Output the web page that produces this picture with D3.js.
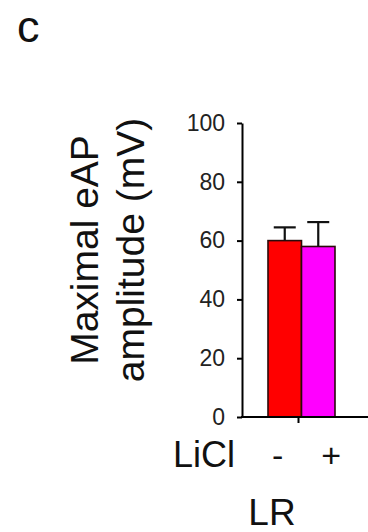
<!DOCTYPE html>
<html>
<head>
<meta charset="utf-8">
<script src="https://cdn.jsdelivr.net/npm/d3@7"></script>
<style>
  body { margin: 0; background: #fff; }
  svg { display: block; font-family: "Liberation Sans", Arial, sans-serif; }
</style>
</head>
<body>
<div id="vis"></div>
<script>
const width = 368;
const height = 532;

// data
const groups = ["-", "+"];
const means = [60, 58];
const errors = [4.5, 8.3];
const colors = ["#ff0000", "#ff00ff"];
const yTicks = [0, 20, 40, 60, 80, 100];

const svg = d3.select("#vis")
    .append("svg")
    .attr("width", width)
    .attr("height", height);

const y = d3.scaleLinear().domain([0, 100]).range([417, 123]);
const x = d3.scaleBand().domain(groups).range([268, 335]).padding(0);

// panel letter
svg.append("text")
    .attr("x", 17)
    .attr("y", 41.5)
    .attr("font-size", 45)
    .attr("fill", "#111")
    .text("c");

// y axis
const yAxis = svg.append("g")
    .attr("transform", "translate(242,0)")
    .call(d3.axisLeft(y).tickValues(yTicks).tickSize(5).tickSizeOuter(0).tickPadding(12));
yAxis.select(".domain").attr("stroke", "#000").attr("stroke-width", 2);
yAxis.selectAll(".tick line").attr("stroke", "#000").attr("stroke-width", 2);
yAxis.selectAll(".tick text")
    .attr("font-size", 23)
    .attr("font-family", "Liberation Sans, Arial, sans-serif")
    .attr("fill", "#222");

// y axis title
const title = svg.append("text")
    .attr("transform", "translate(98,250) rotate(-90)")
    .attr("text-anchor", "middle")
    .attr("font-size", 39)
    .attr("fill", "#111");
title.append("tspan").attr("x", 0).attr("y", 0).text("Maximal eAP");
title.append("tspan").attr("x", 0).attr("y", 46).text("amplitude (mV)");

// bars
svg.append("g")
    .selectAll("rect")
    .data(groups)
    .enter().append("rect")
    .attr("x", d => x(d))
    .attr("y", (d, i) => y(means[i]))
    .attr("width", x.bandwidth())
    .attr("height", (d, i) => y(0) - y(means[i]))
    .attr("fill", (d, i) => colors[i])
    .attr("stroke", "#2a0a0a")
    .attr("stroke-width", 1.6);

// error bars (upper only)
const err = svg.append("g").attr("stroke", "#111").attr("stroke-width", 2.2);
groups.forEach((g, i) => {
    const cx = x(g) + x.bandwidth() / 2;
    err.append("line")
        .attr("x1", cx).attr("x2", cx)
        .attr("y1", y(means[i])).attr("y2", y(means[i] + errors[i]));
    err.append("line")
        .attr("x1", cx - 11).attr("x2", cx + 11)
        .attr("y1", y(means[i] + errors[i])).attr("y2", y(means[i] + errors[i]));
});

// x baseline and tick
svg.append("line")
    .attr("x1", 241).attr("x2", width)
    .attr("y1", y(0)).attr("y2", y(0))
    .attr("stroke", "#000").attr("stroke-width", 2.2);
const midX = (x.range()[0] + x.range()[1]) / 2 - 3;
svg.append("line")
    .attr("x1", midX).attr("x2", midX)
    .attr("y1", y(0)).attr("y2", y(0) + 6)
    .attr("stroke", "#000").attr("stroke-width", 2);

// x labels
const labelOffsets = [-7, 13];
svg.append("text")
    .attr("x", 235)
    .attr("y", 467)
    .attr("text-anchor", "end")
    .attr("font-size", 36)
    .attr("fill", "#111")
    .text("LiCl");
svg.append("g")
    .selectAll("text")
    .data(groups)
    .enter().append("text")
    .attr("x", (d, i) => x(d) + x.bandwidth() / 2 + labelOffsets[i])
    .attr("y", 467)
    .attr("text-anchor", "middle")
    .attr("font-size", 34)
    .attr("fill", "#111")
    .text(d => d);

svg.append("text")
    .attr("x", 272)
    .attr("y", 525)
    .attr("text-anchor", "middle")
    .attr("font-size", 37)
    .attr("fill", "#111")
    .text("LR");
</script>
</body>
</html>
